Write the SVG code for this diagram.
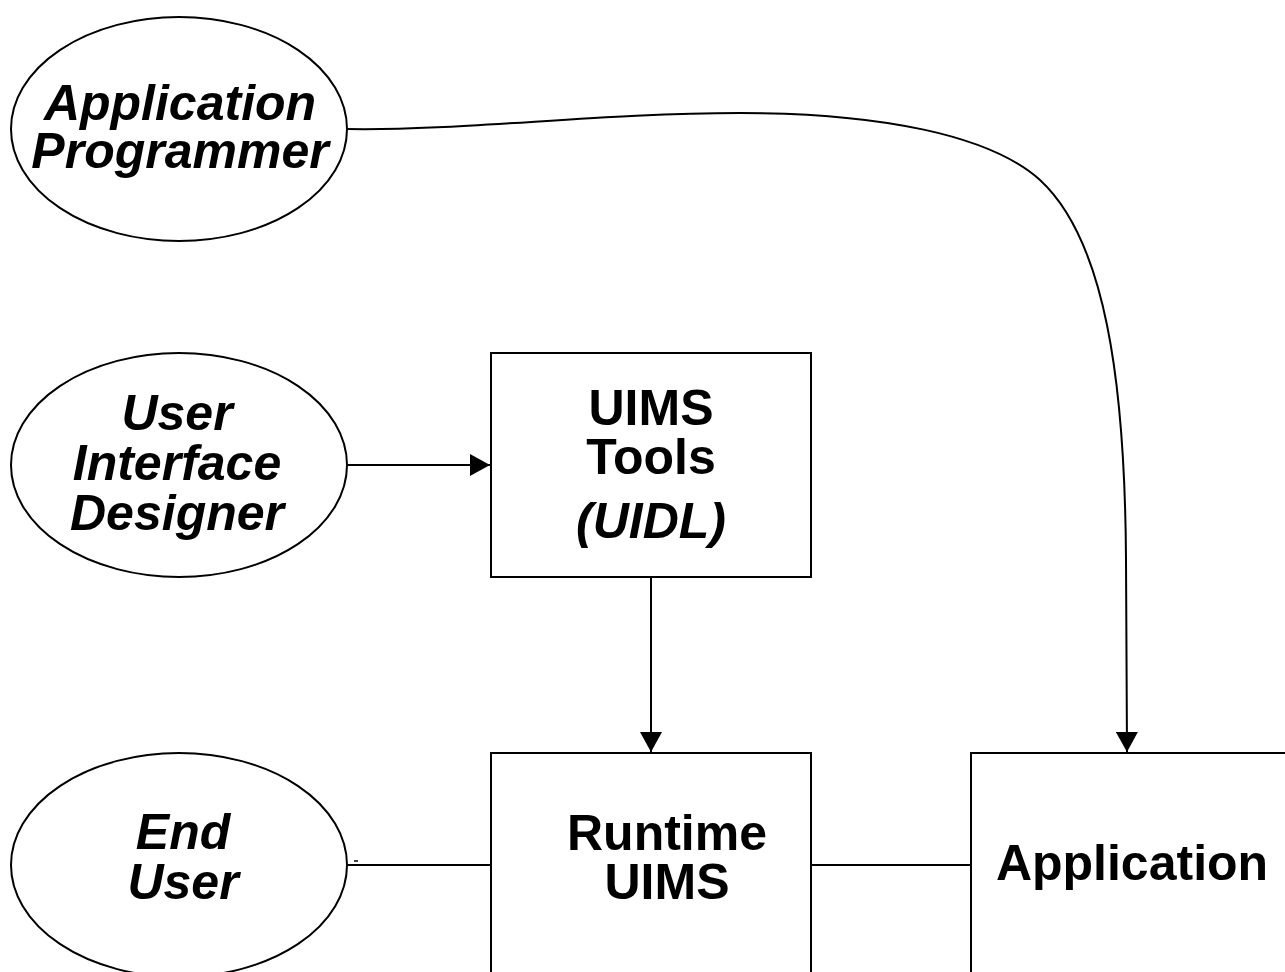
<svg xmlns="http://www.w3.org/2000/svg" width="1285" height="972" viewBox="0 0 1285 972">
  <style>
    .shape { fill: #fff; stroke: #000; stroke-width: 2; }
    .wire { fill: none; stroke: #000; stroke-width: 2; }
    .lbl { font-family: "Liberation Sans", Arial, sans-serif; font-weight: bold; font-size: 50px; fill: #000; text-anchor: middle; }
    .it { font-style: italic; }
  </style>
  <defs>
    <marker id="arrow" viewBox="0 0 20 22" refX="20" refY="11" markerWidth="20" markerHeight="22" markerUnits="userSpaceOnUse" orient="auto">
      <path d="M0,0 L20,11 L0,22 Z" fill="#000"/>
    </marker>
  </defs>
  <rect width="1285" height="972" fill="#fff"/>

  <g id="connectors">
    <path class="wire" d="M347,129 C460,131 600,113 740,113 C880,113 990,135 1040,180 C1105,240 1125,380 1126,560 L1127,752" marker-end="url(#arrow)"/>
    <line class="wire" x1="347" y1="465" x2="490" y2="465" marker-end="url(#arrow)"/>
    <line class="wire" x1="651" y1="577" x2="651" y2="752" marker-end="url(#arrow)"/>
    <line class="wire" x1="347" y1="865" x2="491" y2="865"/>
    <line class="wire" x1="811" y1="865" x2="971" y2="865"/>
    <line x1="354" y1="861" x2="358" y2="861" stroke="#000" stroke-width="1.5"/>
  </g>

  <g id="app-programmer">
    <ellipse class="shape" cx="179" cy="129" rx="168" ry="112"/>
    <text class="lbl it" x="180" y="120">Application</text>
    <text class="lbl it" x="180" y="168">Programmer</text>
  </g>

  <g id="ui-designer">
    <ellipse class="shape" cx="179" cy="465" rx="168" ry="112"/>
    <text class="lbl it" x="177" y="430">User</text>
    <text class="lbl it" x="177" y="480">Interface</text>
    <text class="lbl it" x="177" y="530">Designer</text>
  </g>

  <g id="end-user">
    <ellipse class="shape" cx="179" cy="865" rx="168" ry="112"/>
    <text class="lbl it" x="183" y="849">End</text>
    <text class="lbl it" x="183" y="899">User</text>
  </g>

  <g id="uims-tools">
    <rect class="shape" x="491" y="353" width="320" height="224"/>
    <text class="lbl" x="651" y="425">UIMS</text>
    <text class="lbl" x="651" y="474">Tools</text>
    <text class="lbl it" x="651" y="538">(UIDL)</text>
  </g>

  <g id="runtime-uims">
    <rect class="shape" x="491" y="753" width="320" height="240"/>
    <text class="lbl" x="667" y="850">Runtime</text>
    <text class="lbl" x="667" y="899">UIMS</text>
  </g>

  <g id="application">
    <rect class="shape" x="971" y="753" width="340" height="240"/>
    <text class="lbl" x="1132" y="880">Application</text>
  </g>
</svg>
